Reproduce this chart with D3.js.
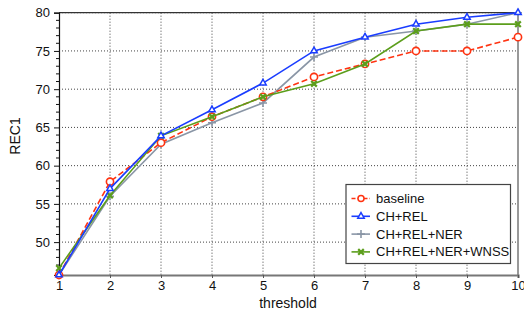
<!DOCTYPE html>
<html><head><meta charset="utf-8">
<script src="https://cdn.jsdelivr.net/npm/d3@7"></script>
<style>body{margin:0;background:#fff}text{font-family:"Liberation Sans",Arial,sans-serif}</style>
</head><body><svg id="c" width="524" height="310"></svg>
<script>
const thresholds = [1,2,3,4,5,6,7,8,9,10];
const baseline   = [45.7,57.9,63.0,66.4,69.0,71.6,73.3,75.0,75.0,76.8];
const chRel      = [45.7,57.0,63.9,67.3,70.8,75.0,76.8,78.5,79.4,80.0];
const chRelNer   = [45.7,56.0,62.8,65.6,68.2,74.2,76.8,77.6,78.5,80.0];
const chRelNerW  = [46.6,56.1,63.9,66.4,69.0,70.7,73.3,77.6,78.5,78.5];
const yTicks = [50,55,60,65,70,75,80];
const seriesNames = ["baseline","CH+REL","CH+REL+NER","CH+REL+NER+WNSS"];

const series = [
  {name:seriesNames[0], values:baseline, color:"#ff3311", dash:"6,3", marker:"circle"},
  {name:seriesNames[1], values:chRel, color:"#1a3dff", dash:null, marker:"triangle"},
  {name:seriesNames[2], values:chRelNer, color:"#8a96a6", dash:null, marker:"plus"},
  {name:seriesNames[3], values:chRelNerW, color:"#5c9e1c", dash:null, marker:"x"}
];

const svg = d3.select("#c");
const L=59, R=518, T=12.7, B=275;
const x = d3.scaleLinear().domain([1,10]).range([L,R]);
const y = d3.scaleLinear().domain([45.7,80]).range([B,T]);

// grid
const g = svg.append("g");
g.selectAll(".gx").data(thresholds.slice(1,-1)).enter().append("line")
  .attr("x1",d=>x(d)).attr("x2",d=>x(d)).attr("y1",T).attr("y2",B)
  .attr("stroke","#444").attr("stroke-width",1).attr("stroke-dasharray","1,2");
g.selectAll(".gy").data(yTicks).enter().append("line")
  .attr("x1",L).attr("x2",R).attr("y1",d=>y(d)).attr("y2",d=>y(d))
  .attr("stroke","#444").attr("stroke-width",1).attr("stroke-dasharray","1,2");

// frame
svg.append("line").attr("x1",L).attr("x2",R).attr("y1",T).attr("y2",T).attr("stroke","#333").attr("stroke-width",1.2);
svg.append("line").attr("x1",R).attr("x2",R).attr("y1",T).attr("y2",B).attr("stroke","#555").attr("stroke-width",1.2);

// y axis
const yAxis = d3.axisLeft(y).tickValues(yTicks).tickSize(5).tickFormat(d3.format("d"));
const ya = svg.append("g").attr("transform",`translate(${L},0)`).call(yAxis);
ya.select(".domain").attr("stroke","#111").attr("stroke-width",1.2);
ya.selectAll(".tick line").attr("stroke","#111");
ya.selectAll("text").attr("font-size","13px").attr("fill","#111").attr("dx","-1");
const minor = d3.range(46,81).filter(v=>v%5!==0);
ya.selectAll(".mn").data(minor).enter().append("line")
  .attr("x1",0).attr("x2",-3).attr("y1",d=>y(d)).attr("y2",d=>y(d)).attr("stroke","#111");

// x axis
const xAxis = d3.axisBottom(x).tickValues(thresholds).tickSize(3).tickPadding(3).tickFormat(d3.format("d"));
const xa = svg.append("g").attr("transform",`translate(0,${B})`).call(xAxis);
xa.select(".domain").attr("stroke","#777").attr("stroke-width",2.2);
xa.selectAll(".tick line").attr("stroke","#555");
xa.selectAll("text").attr("font-size","13px").attr("fill","#111");

// labels
svg.append("text").attr("x",288).attr("y",308).attr("text-anchor","middle").attr("font-size","14px").attr("fill","#111").text("threshold");
svg.append("text").attr("transform","translate(20,136) rotate(-90)").attr("text-anchor","middle").attr("font-size","14px").attr("fill","#111").text("REC1");

function drawMarker(sel, type, color){
  if(type==="circle") sel.append("circle").attr("r",3.6).attr("fill","#fff").attr("stroke",color).attr("stroke-width",1.6);
  else if(type==="triangle") sel.append("path").attr("d",d3.symbol(d3.symbolTriangle,18)()).attr("fill","#fff").attr("stroke",color).attr("stroke-width",1.5);
  else if(type==="plus") sel.append("path").attr("d","M-4,0H4M0,-4V4").attr("stroke",color).attr("stroke-width",1.6);
  else sel.append("path").attr("d","M-2.8,-2.8L2.8,2.8M-2.8,2.8L2.8,-2.8").attr("stroke",color).attr("stroke-width",2.2);
}

const line = d3.line().x((d,i)=>x(thresholds[i])).y(d=>y(d));
const order = [2,0,3,1];
order.forEach(k=>{
  const s = series[k];
  svg.append("path").attr("d",line(s.values)).attr("fill","none").attr("stroke",s.color)
    .attr("stroke-width",1.6).attr("stroke-dasharray",s.dash);
  s.values.forEach((v,i)=>{
    const m = svg.append("g").attr("transform",`translate(${x(thresholds[i])},${y(v)})`);
    drawMarker(m,s.marker,s.color);
  });
});

// legend
const lg = svg.append("g");
lg.append("rect").attr("x",346).attr("y",184.5).attr("width",164.5).attr("height",79).attr("fill","#fff").attr("stroke","#444").attr("stroke-width",1.2);
series.forEach((s,i)=>{
  const yy = 198.5 + i*17.8;
  lg.append("line").attr("x1",351.5).attr("x2",370).attr("y1",yy).attr("y2",yy).attr("stroke",s.color).attr("stroke-width",1.6).attr("stroke-dasharray",s.dash?"4,2":null);
  const m = lg.append("g").attr("transform",`translate(361,${yy})`);
  if(s.marker==="circle") m.append("circle").attr("r",3).attr("fill","#fff").attr("stroke",s.color).attr("stroke-width",1.5);
  else drawMarker(m,s.marker,s.color);
  lg.append("text").attr("x",376).attr("y",yy).attr("dy","0.35em").attr("font-size","13px").attr("fill","#111").text(s.name);
});
</script></body></html>
